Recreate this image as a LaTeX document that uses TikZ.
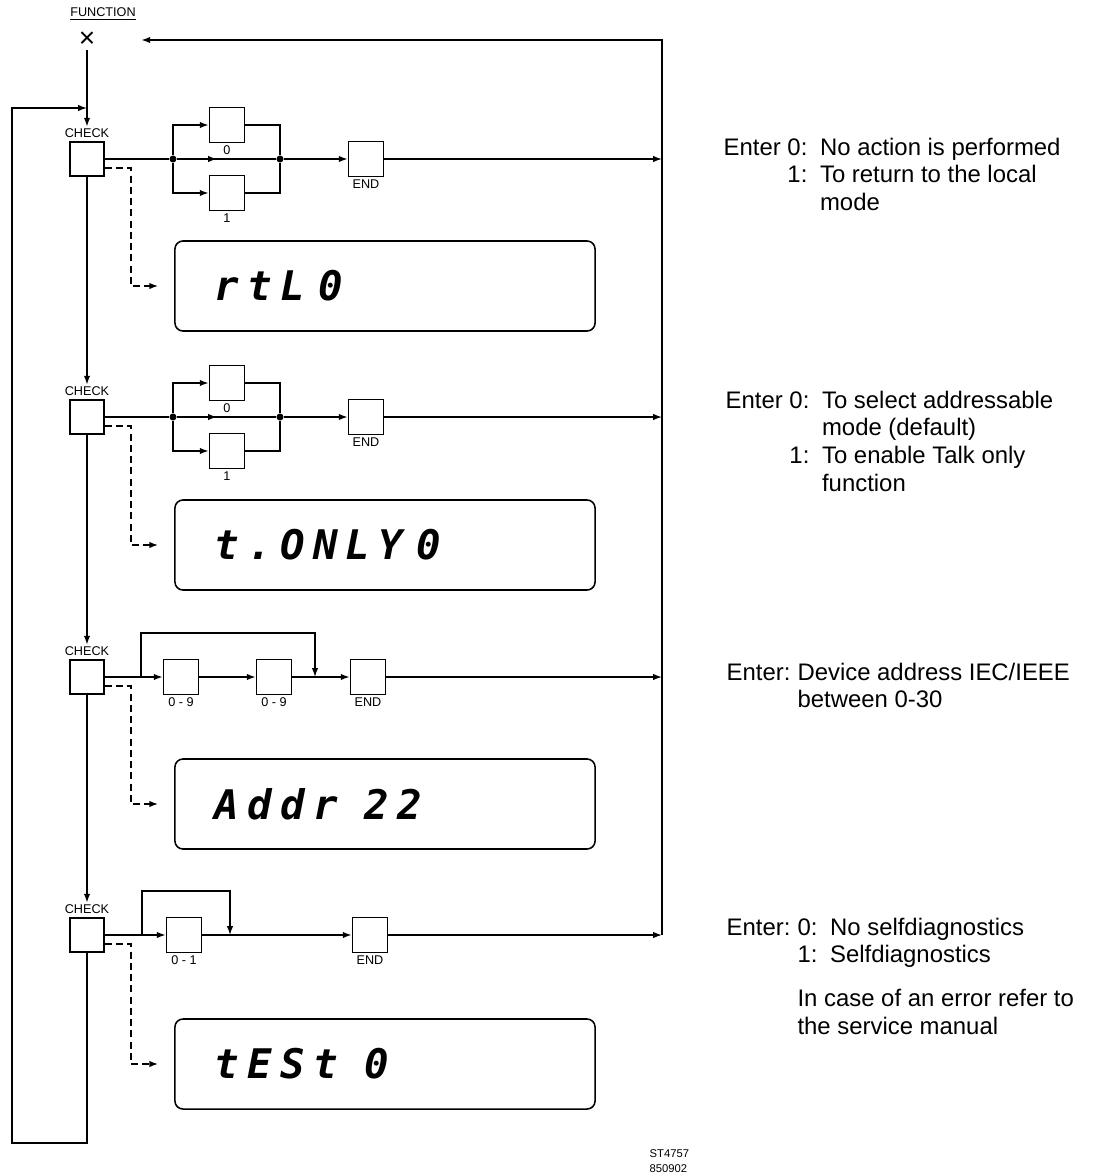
\documentclass[tikz,border=0pt]{standalone}
\usepackage{fontspec}
\setmainfont{Liberation Sans}
\newfontfamily\lcdfont[LetterSpace=20]{DejaVu Sans Mono}
\usetikzlibrary{positioning,arrows.meta}

\tikzset{
  keybox/.style={draw, line width=1.2pt, minimum size=0.875cm, inner sep=0pt},
  chkbox/.style={keybox, minimum size=0.85cm},
  lbl/.style={font=\fontsize{9}{10}\selectfont, inner sep=1pt},
  lcd/.style={draw, line width=1.1pt, rounded corners=0.2cm, minimum height=2.25cm,
    text width=8.5cm, inner xsep=1cm, align=left,
    font=\lcdfont\bfseries\itshape\fontsize{29}{30}\selectfont},
  dot/.style={circle, fill, inner sep=0pt, minimum size=5pt},
  note/.style={anchor=base west, inner sep=0pt, font=\fontsize{17}{19.8}\selectfont},
  dashline/.style={->, dash pattern=on 5pt off 3pt, shorten >=0.4cm}
}

\begin{document}
\begin{tikzpicture}[x=0.025cm, y=-0.025cm, line width=1pt, >={Latex[length=2.2mm,width=1.6mm]}]
    \useasboundingbox (0,0) rectangle (1100,1176);

    \node[lbl] (fn) at (103,14) {\underline{FUNCTION}};
    \node[inner sep=1pt, font=\fontsize{20}{20}\selectfont] (x) at (87,40) {×};

    % check keys and displays
    \foreach \i/\y/\d/\txt in {1/159/286/{rtL 0}, 2/417/545/{t.ONLY 0}, 3/677/804/{Addr\ \ 22}, 4/935/1064/{tESt\ \ 0}} {
        \node[chkbox] (c\i) at (87,\y) {};
        \node[lbl, above=1pt of c\i] (h\i) {CHECK};
        \node[lcd] (d\i) at (385,\d) {\txt};
        \coordinate (r\i) at (662,\y);
        \draw[dashline] ([yshift=-0.22cm]c\i.east) -- ++(26,0) |- (d\i);
    }

    % rows with a choice 0 / 1
    \foreach \i/\y in {1/159, 2/417} {
        \node[dot] (ja\i) at (173,\y) {};
        \node[dot] (jb\i) at (280,\y) {};
        \node[keybox, label={[lbl]below:0}] (ka\i) at (227,\y-34) {};
        \node[keybox, label={[lbl]below:1}] (kb\i) at (227,\y+34) {};
        \node[keybox, label={[lbl]below:END}] (e\i) at (366,\y) {};
        \coordinate (m\i) at (217,\y);
        \draw (c\i) -- (ja\i) -- (jb\i);
        \draw[->] (ja\i) -- (m\i);
        \draw[->] (ja\i) |- (ka\i);
        \draw[->] (ja\i) |- (kb\i);
        \draw (ka\i) -| (jb\i);
        \draw (kb\i) -| (jb\i);
        \draw[->] (jb\i) -- (e\i);
        \draw[->] (e\i) -- (r\i);
    }

    % address row
    \node[keybox, label={[lbl]below:0 - 9}] (ka3) at (181,677) {};
    \node[keybox, label={[lbl]below:0 - 9}] (kb3) at (274,677) {};
    \node[keybox, label={[lbl]below:END}] (e3) at (368,677) {};
    \coordinate (j3) at (141,677);
    \coordinate (b3) at (315,677);
    \draw (c3) -- (j3);
    \draw[->] (j3) -- ++(0,-44) -| (b3);
    \draw[->] (j3) -- (ka3);
    \draw[->] (ka3) -- (kb3);
    \draw (kb3) -- (b3);
    \draw[->] (b3) -- (e3);
    \draw[->] (e3) -- (r3);

    % test row
    \node[keybox, label={[lbl]below:0 - 1}] (ka4) at (184,935) {};
    \node[keybox, label={[lbl]below:END}] (e4) at (370,935) {};
    \coordinate (j4) at (142,935);
    \coordinate (b4) at (230,935);
    \draw (c4) -- (j4);
    \draw[->] (j4) -- ++(0,-44) -| (b4);
    \draw[->] (j4) -- (ka4);
    \draw (ka4) -- (b4);
    \draw[->] (b4) -- (e4);
    \draw[->] (e4) -- (r4);

    % main line and loops
    \draw[->] (x) -- (h1);
    \foreach \i/\j in {1/2, 2/3, 3/4}
        \draw[->] (c\i) -- (h\j);
    \coordinate (jin) at (87,108);
    \coordinate (lb) at (12,1143);
    \draw[->] (c4) |- (lb) |- (jin);
    \draw[->, shorten >=1.1cm] (r4) |- (x);

    % notes
    \node[note] (n1) at (723,155) {\begin{tabular}[t]{@{}r@{\hspace{9pt}}l@{}}
        Enter 0: & No action is performed\\ 1: & To return to the local\\ & mode\end{tabular}};
    \node[note] (n2) at (725,408) {\begin{tabular}[t]{@{}r@{\hspace{9pt}}l@{}}
        Enter 0: & To select addressable\\ & mode (default)\\ 1: & To enable Talk only\\ & function\end{tabular}};
    \node[note] (n3) at (726,680) {\begin{tabular}[t]{@{}l@{\hspace{5pt}}l@{}}
        Enter: & Device address IEC/IEEE\\ & between 0-30\end{tabular}};
    \node[note] (n4) at (726,935) {\begin{tabular}[t]{@{}l@{\hspace{5pt}}l@{\hspace{9pt}}l@{}}
        Enter: & 0: & No selfdiagnostics\\ & 1: & Selfdiagnostics\\[11pt]
        & \multicolumn{2}{@{}l@{}}{In case of an error refer to}\\
        & \multicolumn{2}{@{}l@{}}{the service manual}\end{tabular}};
    \node[anchor=base west, inner sep=0pt, font=\fontsize{8}{11}\selectfont] (code) at (649,1157)
        {\begin{tabular}[t]{@{}l@{}}ST4757\\850902\end{tabular}};
\end{tikzpicture}
\end{document}
